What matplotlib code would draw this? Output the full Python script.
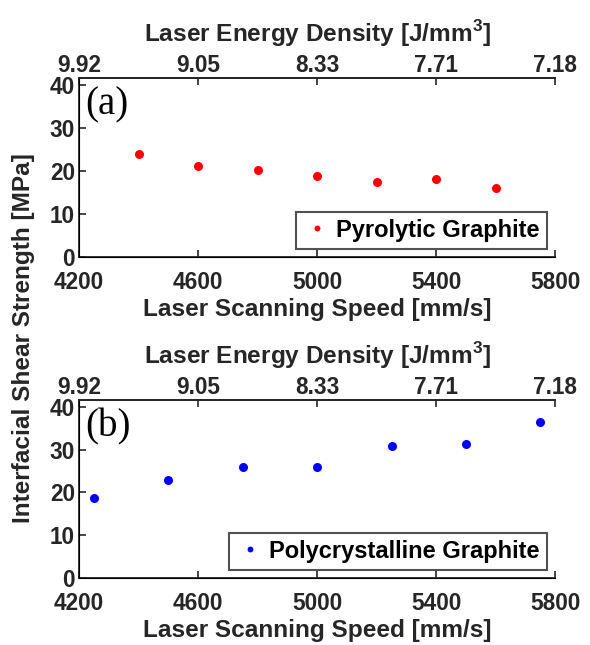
import matplotlib
matplotlib.use("Agg")
import matplotlib.pyplot as plt

# data
speed_pyro = [4400, 4600, 4800, 5000, 5200, 5400, 5600]
iss_pyro = [24.0, 21.2, 20.2, 18.8, 17.5, 18.1, 16.0]

speed_poly = [4250, 4500, 4750, 5000, 5250, 5500, 5750]
iss_poly = [18.7, 23.0, 26.0, 25.9, 30.9, 31.4, 36.4]

speed_ticks = [4200, 4600, 5000, 5400, 5800]
energy_labels = ["9.92", "9.05", "8.33", "7.71", "7.18"]
y_ticks = [0, 10, 20, 30, 40]

plt.rcParams['font.family'] = ['Liberation Sans', 'DejaVu Sans']
plt.rcParams['font.weight'] = 'bold'
plt.rcParams['mathtext.fontset'] = 'custom'
plt.rcParams['mathtext.bf'] = 'Liberation Sans:bold'
tick_fs = 16.3
label_fs = 17.6
dark = '#262626'

fig = plt.figure(figsize=(5.9, 6.45), dpi=100)

panels = [
    ([0.134, 0.6016, 0.807, 0.2775], speed_pyro, iss_pyro, 'red', 'Pyrolytic Graphite', '(a)'),
    ([0.134, 0.1039, 0.807, 0.2760], speed_poly, iss_poly, 'blue', 'Polycrystalline Graphite', '(b)'),
]

for rect, x, y, color, name, tag in panels:
    ax = fig.add_axes(rect)
    ax.plot(x, y, 'o', color=color, markersize=6.5, markeredgewidth=0, label=name)
    ax.set_xlim(4200, 5800)
    ax.set_ylim(0, 41.6)
    ax.set_xticks(speed_ticks)
    ax.set_yticks(y_ticks)
    ax.set_xlabel('Laser Scanning Speed [mm/s]', color=dark, fontweight='bold',
                  fontsize=label_fs, labelpad=3)
    ax.tick_params(direction='in', length=5, width=1.2, colors=dark, labelsize=tick_fs)
    ax.tick_params(axis='x', pad=10)
    ax.tick_params(axis='y', pad=3)
    ax.spines['right'].set_visible(False)
    for s in ['left', 'bottom', 'top']:
        ax.spines[s].set_color(dark)
        ax.spines[s].set_linewidth(1.3)

    ax2 = ax.twiny()
    ax2.set_xlim(ax.get_xlim())
    ax2.set_xticks(speed_ticks)
    ax2.set_xticklabels(energy_labels)
    ax2.set_xlabel('Laser Energy Density [J/mm$^\\mathbf{3}$]', color=dark, fontweight='bold',
                   fontsize=label_fs, labelpad=9)
    ax2.tick_params(direction='in', length=5, width=1.2, colors=dark, labelsize=tick_fs, pad=0.5)
    ax2.spines['right'].set_visible(False)
    ax2.spines['top'].set_color(dark)
    ax2.spines['top'].set_linewidth(1.3)

    ax.text(0.014, 0.955, tag, transform=ax.transAxes, ha='left', va='top',
            family='Liberation Serif', fontweight='normal', fontsize=28, color='black')

    leg = ax.legend(loc='lower right', fontsize=17, frameon=True, fancybox=False,
                    handletextpad=0.2, handlelength=1.2, borderpad=0.3,
                    borderaxespad=0.35, markerscale=0.65)
    leg.get_frame().set_edgecolor(dark)
    leg.get_frame().set_linewidth(1.5)
    for t in leg.get_texts():
        t.set_color('black')

fig.text(0.039, 0.476, 'Interfacial Shear Strength [MPa]', rotation=90,
         ha='center', va='center', color=dark, fontweight='bold', fontsize=label_fs)

fig.savefig('out.png', dpi=100)
